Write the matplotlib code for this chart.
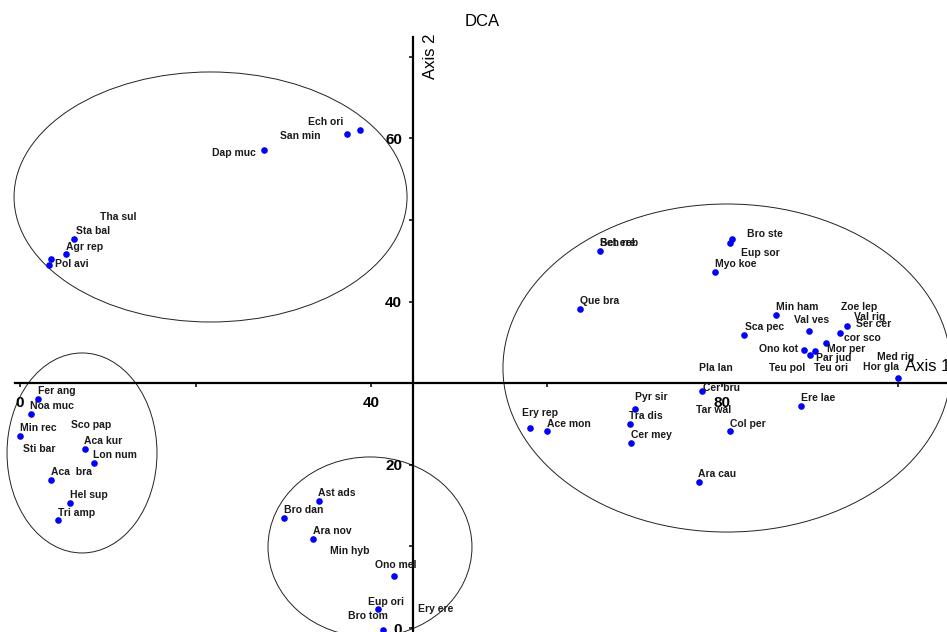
import matplotlib
matplotlib.use("Agg")
import matplotlib.pyplot as plt
from matplotlib.patches import Ellipse

# species scores (blue dots), DCA axis 1 / axis 2
score_x = [38.72, 37.24, 27.79, 6.15, 5.24, 3.30, 3.53,
           2.05, 1.25, 0.00, 7.40, 8.43, 3.53, 5.69, 4.33,
           34.05, 30.07, 33.37, 42.60, 40.77, 41.34,
           81.09, 80.87, 79.16, 66.06, 63.78, 86.10, 89.86, 94.19, 82.46,
           93.39, 91.80, 89.29, 90.55, 89.98, 100.0, 77.68,
           70.05, 69.48, 69.59, 58.09, 60.02, 80.87, 88.95, 77.33]
score_y = [61.03, 60.54, 58.58, 47.67, 45.83, 44.49, 45.22,
           28.06, 26.23, 23.53, 21.94, 20.22, 18.14, 15.32, 13.24,
           15.56, 13.48, 10.91, 6.37, 2.33, -0.25,
           47.67, 47.18, 43.63, 46.20, 39.09, 38.36, 36.40, 37.01, 35.91,
           36.15, 34.93, 34.07, 33.95, 33.46, 30.64, 29.04,
           26.84, 25.00, 22.67, 24.51, 24.14, 24.14, 27.21, 17.89]

# species labels and where they were placed on the plot
species = ["Ech ori", "San min", "Dap muc", "Tha sul", "Sta bal", "Agr rep", "Pol avi",
           "Fer ang", "Noa muc", "Min rec", "Sco pap", "Sti bar", "Aca kur", "Lon num",
           "Aca  bra", "Hel sup", "Tri amp",
           "Ast ads", "Bro dan", "Ara nov", "Min hyb", "Ono mel", "Eup ori", "Bro tom", "Ery ere",
           "Bro ste", "Eup sor", "Myo koe", "Bet ere", "Sch reb", "Que bra", "Min ham",
           "Zoe lep", "Val ves", "Val rig", "Ser cer", "Sca pec", "cor sco", "Mor per",
           "Ono kot", "Par jud", "Teu pol", "Teu ori", "Med rig", "Hor gla", "Pla lan",
           "Cer bru", "Pyr sir", "Tra dis", "Cer mey", "Ery rep", "Ace mon", "Tar wal",
           "Col per", "Ere lae", "Ara cau"]
label_x = [32.80, 29.61, 21.87, 9.11, 6.38, 5.24, 3.99,
           2.05, 1.14, 0.00, 5.81, 0.34, 7.29, 8.31,
           3.53, 5.69, 4.33,
           33.94, 30.07, 33.37, 35.31, 40.43, 39.64, 37.36, 45.33,
           82.80, 82.12, 79.16, 66.06, 66.06, 63.78, 86.10,
           93.51, 88.15, 94.99, 95.22, 82.57, 93.85, 91.91,
           84.17, 90.66, 85.31, 90.43, 97.61, 96.01, 77.33,
           77.79, 70.05, 69.36, 69.59, 57.18, 60.02, 76.99,
           80.87, 88.95, 77.22]
label_y = [62.01, 60.29, 58.21, 50.37, 48.65, 46.69, 44.61,
           29.04, 27.21, 24.51, 24.88, 21.94, 22.92, 21.20,
           19.12, 16.30, 14.09,
           16.54, 14.46, 11.89, 9.44, 7.72, 3.19, 1.47, 2.33,
           48.28, 45.96, 44.61, 47.18, 47.18, 40.07, 39.34,
           39.34, 37.75, 38.11, 37.25, 36.89, 35.54, 34.19,
           34.19, 33.09, 31.86, 31.86, 33.21, 31.99, 31.86,
           29.41, 28.31, 25.98, 23.65, 26.35, 25.00, 26.72,
           25.00, 28.19, 18.87]

# group ellipses: centre x, centre y, width, height (axis units)
groups = [(21.70, 52.82, 44.76, 30.64),
          (7.06, 21.45, 17.08, 24.51),
          (39.86, 9.93, 23.23, 22.06),
          (80.52, 31.86, 51.03, 40.20)]

plt.rcParams['font.family'] = ['Liberation Sans', 'DejaVu Sans']

fig = plt.figure(figsize=(9.47, 6.32), dpi=100)
ax = fig.add_axes([0, 0, 1, 1])
ax.set_xlim(-2.28, 105.58)
ax.set_ylim(-0.49, 76.96)

for cx, cy, w, h in groups:
  ax.add_patch(Ellipse((cx, cy), w, h, fill=False, edgecolor='#222222', lw=0.7))

ax.scatter(score_x, score_y, s=14, color='#0000ff', zorder=3, clip_on=False)

for name, lx, ly in zip(species, label_x, label_y):
  ax.text(lx, ly, name, fontsize=7.5, fontweight='bold', color='#1a1a1a',
          ha='left', va='center', zorder=4)

# axes crossing inside the plot, like the CANOCO output
for s in ['top', 'right']:
  ax.spines[s].set_visible(False)
ax.spines['bottom'].set_position(('data', 30))
ax.spines['left'].set_position(('data', 44.8))
ax.spines['bottom'].set_bounds(-0.6, 105.6)
ax.spines['left'].set_bounds(-0.5, 72.4)
for s in ['bottom', 'left']:
  ax.spines[s].set_linewidth(1.6)

ax.set_xticks(range(0, 101, 20))
ax.set_xticklabels(['0', '', '40', '', '80', ''])
ax.set_yticks(range(0, 71, 10))
ax.set_yticklabels(['0', '', '20', '', '40', '', '60', ''])
ax.tick_params(axis='x', direction='out', length=3, width=1.1, pad=6.5,
               labelsize=11)
ax.tick_params(axis='y', direction='out', length=3, width=1.1, pad=5,
               labelsize=11)
for lab in ax.get_xticklabels() + ax.get_yticklabels():
  lab.set_fontweight('bold')

ax.text(100.8, 31.99, 'Axis 1', fontsize=12, ha='left', va='center')
ax.text(46.7, 70.1, 'Axis 2', fontsize=12, rotation=90, ha='center', va='center')
fig.text(482 / 947, 1 - 21 / 632, 'DCA', fontsize=12, ha='center', va='center')

fig.savefig('out.png', dpi=100)
